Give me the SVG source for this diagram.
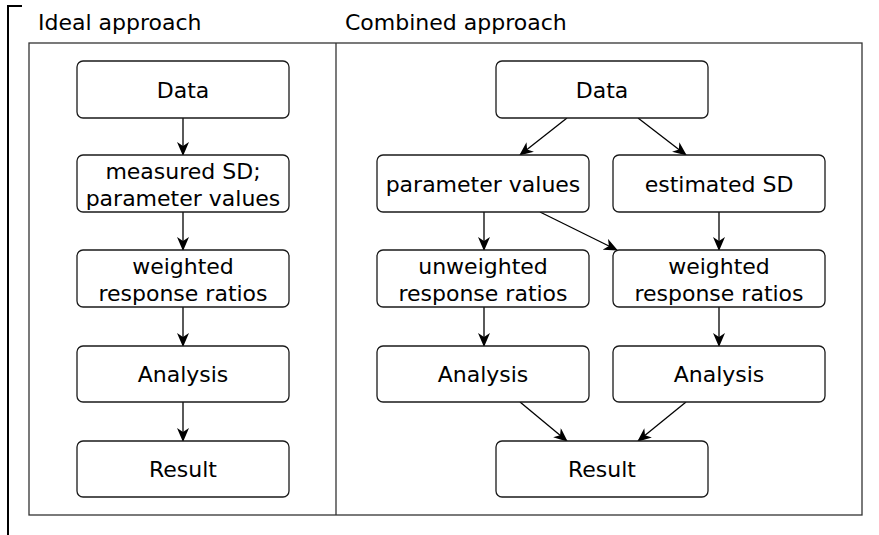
<svg xmlns="http://www.w3.org/2000/svg" width="879" height="535" viewBox="0 0 879 535">
<defs>
<marker id="ah" markerWidth="14" markerHeight="12" viewBox="0 0 14 12" refX="13" refY="6" orient="auto" markerUnits="userSpaceOnUse">
<path d="M0,0 L14,6 L0,12 L4,6 Z" fill="#000"/>
</marker>
<style>
.box{fill:#fff;stroke:#1a1a1a;stroke-width:1.3}
.t{font-family:"DejaVu Sans",Verdana,sans-serif;font-size:22px;fill:#000;text-anchor:middle}
.h{font-family:"DejaVu Sans",Verdana,sans-serif;font-size:22px;fill:#000}
.c{stroke:#000;stroke-width:1.3;fill:none;marker-end:url(#ah)}
</style>
</defs>
<rect width="879" height="535" fill="#fff"/>
<path d="M8,535 V6 H22" fill="none" stroke="#000" stroke-width="2"/>
<rect x="29" y="43" width="833" height="472" fill="none" stroke="#333" stroke-width="1.3"/>
<line x1="336" y1="43" x2="336" y2="515" stroke="#333" stroke-width="1.3"/>
<text class="h" x="38" y="30">Ideal approach</text>
<text class="h" x="345" y="30">Combined approach</text>

<g id="connectors">
<line class="c" x1="183" y1="118" x2="183" y2="155"/>
<line class="c" x1="183" y1="212" x2="183" y2="250"/>
<line class="c" x1="183" y1="307" x2="183" y2="346"/>
<line class="c" x1="183" y1="402" x2="183" y2="441"/>
<line class="c" x1="567" y1="118" x2="520" y2="155"/>
<line class="c" x1="638" y1="118" x2="686" y2="155"/>
<line class="c" x1="484" y1="212" x2="484" y2="250"/>
<line class="c" x1="540" y1="212" x2="617" y2="250"/>
<line class="c" x1="719" y1="212" x2="719" y2="250"/>
<line class="c" x1="484" y1="307" x2="484" y2="346"/>
<line class="c" x1="719" y1="307" x2="719" y2="346"/>
<line class="c" x1="520" y1="402" x2="567" y2="441"/>
<line class="c" x1="686" y1="402" x2="638" y2="441"/>
</g>

<g id="l-data"><rect class="box" x="77" y="61" width="212" height="57" rx="6"/><text class="t" x="183" y="98">Data</text></g>
<g id="l-measured"><rect class="box" x="77" y="155" width="212" height="57" rx="6"/><text class="t" x="183" y="179">measured SD;</text><text class="t" x="183" y="206">parameter values</text></g>
<g id="l-weighted"><rect class="box" x="77" y="250" width="212" height="57" rx="6"/><text class="t" x="183" y="274">weighted</text><text class="t" x="183" y="301">response ratios</text></g>
<g id="l-analysis"><rect class="box" x="77" y="346" width="212" height="56" rx="6"/><text class="t" x="183" y="382">Analysis</text></g>
<g id="l-result"><rect class="box" x="77" y="441" width="212" height="56" rx="6"/><text class="t" x="183" y="477">Result</text></g>

<g id="r-data"><rect class="box" x="496" y="61" width="212" height="57" rx="6"/><text class="t" x="602" y="98">Data</text></g>
<g id="r-param"><rect class="box" x="377" y="155" width="212" height="57" rx="6"/><text class="t" x="483" y="192">parameter values</text></g>
<g id="r-estsd"><rect class="box" x="613" y="155" width="212" height="57" rx="6"/><text class="t" x="719" y="192">estimated SD</text></g>
<g id="r-unweighted"><rect class="box" x="377" y="250" width="212" height="57" rx="6"/><text class="t" x="483" y="274">unweighted</text><text class="t" x="483" y="301">response ratios</text></g>
<g id="r-weighted"><rect class="box" x="613" y="250" width="212" height="57" rx="6"/><text class="t" x="719" y="274">weighted</text><text class="t" x="719" y="301">response ratios</text></g>
<g id="r-analysis1"><rect class="box" x="377" y="346" width="212" height="56" rx="6"/><text class="t" x="483" y="382">Analysis</text></g>
<g id="r-analysis2"><rect class="box" x="613" y="346" width="212" height="56" rx="6"/><text class="t" x="719" y="382">Analysis</text></g>
<g id="r-result"><rect class="box" x="496" y="441" width="212" height="56" rx="6"/><text class="t" x="602" y="477">Result</text></g>
</svg>
